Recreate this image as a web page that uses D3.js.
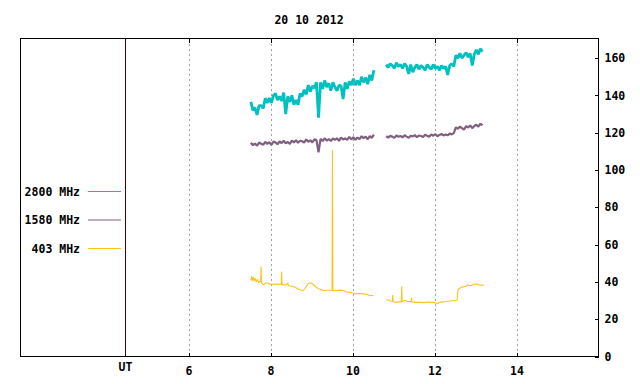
<!DOCTYPE html>
<html lang="en">
<head>
    <meta charset="UTF-8">
    <title>20 10 2012</title>
    <script src="https://d3js.org/d3.v7.min.js"></script>
    <style>
        body { margin: 0; background: #fff; }
        text { font-family: "DejaVu Sans Mono", monospace; font-weight: bold; font-size: 11.5px; fill: #000; }
        .frame { fill: none; stroke: #000; stroke-width: 1; shape-rendering: crispEdges; }
        .grid { stroke: #a0a0a0; stroke-width: 1; stroke-dasharray: 2,3; shape-rendering: crispEdges; }
        .axis path { display: none; }
        .axis line { stroke: #000; shape-rendering: crispEdges; }
        .trace { fill: none; stroke-linejoin: bevel; }
    </style>
</head>
<body>
    <script>
        // chart title and axis ticks
        const titleText = "20 10 2012";
        const hourTicks = [6, 8, 10, 12, 14];
        const fluxTicks = [0, 20, 40, 60, 80, 100, 120, 140, 160];
        const utMarkHour = 4.47;

        // series names and colours
        const bands = ["2800 MHz", "1580 MHz", "403 MHz"];
        const bandColors = ["#00c0c0", "#806080", "#ffc020"];

        // sampled segments (start hour, one value every 0.05 h)
        const sampleStep = 0.05;

        const f2800a = { start: 7.52, values: [
            136.5, 132, 133.5, 129.5, 134.5, 134.5, 133, 138.5, 136, 138.5,
            136, 140, 141, 137.5, 139.5, 137, 141.5, 130, 139.5, 136.5,
            140, 135, 137.5, 135, 141, 139.5, 143, 140.5, 145.5, 142,
            145, 144, 147, 128, 147, 143.5, 148, 144.5, 146.5, 142.5,
            147, 144.5, 142.5, 145.5, 145, 138, 147, 143.5, 147.5, 145.5,
            149, 145.5, 148, 145.5, 150, 147, 149.5, 146, 151, 148,
            153.5] };
        const f2800b = { start: 10.82, values: [
            156.5, 155, 157, 156, 154.5, 157.5, 155.5, 156.5, 154.5, 157,
            155.5, 151.5, 156.5, 152.5, 155, 156.5, 154, 156, 155, 153.5,
            156.5, 155, 154, 156.5, 154.5, 155.5, 153.5, 156, 154.5, 155.5,
            151, 156, 157, 155.5, 161.5, 160, 162.5, 160, 161.5, 163,
            160.5, 162.5, 156, 162, 164.5, 162, 165, 163.5] };

        const f1580a = { start: 7.52, values: [
            114.6, 113.3, 114.2, 113.0, 114.7, 114.1, 113.5, 115.1, 114.0, 114.9,
            113.5, 115.2, 114.8, 113.8, 115.3, 114.4, 115.7, 114.3, 115.0, 114.0,
            115.8, 114.8, 116.0, 114.6, 115.7, 115.4, 114.7, 116.4, 115.1, 115.9,
            114.8, 116.4, 116.0, 109.5, 116.7, 115.5, 117.0, 115.8, 116.6, 115.5,
            117.0, 116.2, 117.0, 115.6, 117.4, 116.3, 116.9, 116.1, 117.7, 116.4,
            117.6, 116.2, 117.4, 116.6, 118.1, 117.1, 117.9, 116.5, 118.2, 117.2,
            119.0] };
        const f1580b = { start: 10.82, values: [
            118.1, 117.4, 118.3, 117.9, 117.2, 118.5, 117.8, 118.2, 117.5, 118.6,
            117.9, 117.3, 118.4, 118.0, 118.7, 117.6, 118.5, 118.2, 117.7, 118.9,
            118.3, 117.9, 119.0, 118.4, 119.2, 118.1, 118.8, 119.3, 118.5, 119.0,
            118.6, 119.5, 119.1, 119.8, 122.8, 122.1, 123.3, 122.5, 121.6, 123.5,
            122.8, 123.9, 122.4, 123.6, 124.3, 123.2, 124.8, 123.9] };

        // 403 MHz is smooth with a few spikes: [hour, value]
        const f403a = [
            [7.52, 41], [7.54, 43], [7.56, 40.5], [7.58, 42.5], [7.6, 40.5], [7.62, 42],
            [7.65, 40], [7.68, 41.5], [7.71, 39.5], [7.75, 40.5], [7.76, 40], [7.77, 48.2],
            [7.78, 39.5], [7.83, 38.4], [7.88, 39.5], [7.95, 39.3], [8.0, 38.6], [8.07, 38.9],
            [8.15, 38.8], [8.26, 38.6], [8.27, 45.5], [8.28, 38.6], [8.31, 38.4], [8.38, 38.2],
            [8.42, 39.5], [8.44, 37.9], [8.5, 37.8], [8.56, 37.5], [8.64, 36.6], [8.73, 35.7],
            [8.8, 35.4], [8.86, 37], [8.92, 39.1], [8.97, 39.4], [9.01, 39.2], [9.08, 37.8],
            [9.15, 36.5], [9.22, 36.1], [9.29, 35.4], [9.4, 35.5], [9.5, 35.5], [9.51, 110.6],
            [9.52, 35.3], [9.62, 35.4], [9.7, 35.6], [9.78, 35.4], [9.86, 34.6], [9.95, 34.3],
            [10.07, 33.6], [10.17, 33.8], [10.27, 33.6], [10.35, 33.2], [10.42, 32.6], [10.51, 32.8]];
        const f403b = [
            [10.82, 30.4], [10.88, 30.2], [10.92, 29.8], [10.97, 29.6], [10.98, 33], [10.99, 29.4],
            [11.05, 29.1], [11.12, 29.3], [11.19, 29.2], [11.2, 37.5], [11.21, 29.3], [11.27, 30.2],
            [11.33, 29.5], [11.43, 29.4], [11.44, 31.6], [11.45, 29.3], [11.55, 29], [11.65, 29.1],
            [11.74, 28.9], [11.85, 29.2], [11.93, 29], [12.0, 29.1], [12.06, 28.2], [12.12, 29],
            [12.2, 29.3], [12.31, 29.5], [12.42, 29.9], [12.55, 30], [12.57, 35.4], [12.6, 36.5],
            [12.67, 37.2], [12.75, 37.5], [12.8, 38.4], [12.88, 37.9], [12.95, 38.6], [13.04, 38.9],
            [13.1, 38.2], [13.2, 38.4]];

        const width = 640;
        const height = 384;
        const svg = d3.select("body").append("svg")
            .attr("width", width)
            .attr("height", height);

        const x = d3.scaleLinear().domain([1.9, 16]).range([20.5, 598.5]);
        const y = d3.scaleLinear().domain([0, 170.5]).range([356.5, 38.5]);

        // dashed grid at the hour ticks
        svg.selectAll(".grid")
            .data(hourTicks)
            .enter().append("line")
            .attr("class", "grid")
            .attr("x1", d => Math.round(x(d)) + 0.5)
            .attr("x2", d => Math.round(x(d)) + 0.5)
            .attr("y1", 39)
            .attr("y2", 356);

        // UT marker line
        const utX = Math.round(x(utMarkHour)) - 0.5;
        svg.append("line")
            .attr("x1", utX).attr("x2", utX)
            .attr("y1", 38.5).attr("y2", 356.5)
            .attr("stroke", "#4a0000")
            .attr("stroke-width", 1)
            .attr("shape-rendering", "crispEdges");

        // axes
        svg.append("g").attr("class", "axis")
            .attr("transform", "translate(0,356.5)")
            .call(d3.axisBottom(x).tickValues(hourTicks).tickSize(-4).tickPadding(10).tickFormat(d3.format("d")));
        svg.append("g").attr("class", "axis")
            .attr("transform", "translate(0,38.5)")
            .call(d3.axisTop(x).tickValues(hourTicks).tickSize(-4).tickFormat(""));
        svg.append("g").attr("class", "axis")
            .attr("transform", "translate(598.5,0)")
            .call(d3.axisRight(y).tickValues(fluxTicks).tickSize(-4).tickPadding(6).tickFormat(d3.format("d")));

        svg.append("text")
            .attr("x", utX)
            .attr("y", 371)
            .attr("text-anchor", "middle")
            .text("UT");

        // frame
        svg.append("rect")
            .attr("class", "frame")
            .attr("x", 20.5).attr("y", 38.5)
            .attr("width", 578).attr("height", 318);

        svg.append("text")
            .attr("x", 309)
            .attr("y", 24)
            .attr("text-anchor", "middle")
            .text(titleText);

        // series
        const toPoints = seg => seg.values.map((v, i) => [seg.start + i * sampleStep, v]);
        const line = d3.line().x(d => x(d[0])).y(d => y(d[1]));

        const traces = [
            { color: bandColors[0], w: 2.8, segs: [toPoints(f2800a), toPoints(f2800b)] },
            { color: bandColors[1], w: 2.2, segs: [toPoints(f1580a), toPoints(f1580b)] },
            { color: bandColors[2], w: 1.1, segs: [f403a, f403b] }
        ];

        traces.forEach(t => {
            t.segs.forEach(s => {
                svg.append("path")
                    .attr("class", "trace")
                    .attr("stroke", t.color)
                    .attr("stroke-width", t.w)
                    .attr("d", line(s));
            });
        });

        // legend
        const legend = svg.selectAll(".legend")
            .data(bands)
            .enter().append("g")
            .attr("class", "legend")
            .attr("transform", (d, i) => `translate(0,${191.5 + i * 28.5})`);
        legend.append("text")
            .attr("x", 80)
            .attr("y", 4)
            .attr("text-anchor", "end")
            .text(d => d);
        legend.append("line")
            .attr("x1", 88).attr("x2", 121)
            .attr("y1", 0).attr("y2", 0)
            .attr("stroke", d => bandColors[bands.indexOf(d)]);
    </script>
</body>
</html>
